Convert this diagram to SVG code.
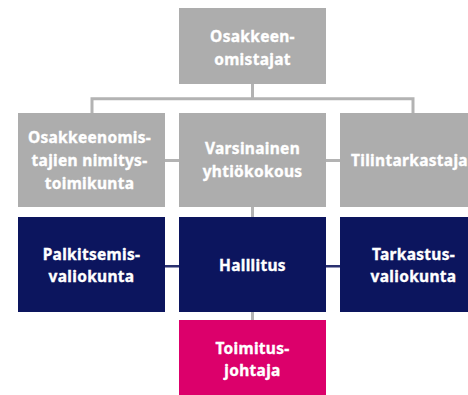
<svg xmlns="http://www.w3.org/2000/svg" width="468" height="395" viewBox="0 0 468 395">
<style>
.g{fill:#adadad}
.n{fill:#0c155e}
.p{fill:#dc006b}
text{font-family:"Noto Sans","Liberation Sans",sans-serif;font-weight:bold;font-size:15.5px;fill:#ffffff;stroke:#ffffff;stroke-width:0.35;text-anchor:middle;letter-spacing:0.3px}
.lg{stroke:#b3b3b3;stroke-width:3;fill:none}
.ln{stroke:#2a3170;stroke-width:2.6;fill:none}
</style>
<g id="connectors">
<path class="lg" d="M252.5 84V98.7M92 113V98.7H413V113"/>
<path class="lg" d="M165 160.5H179M326 160.5H340"/>
<path class="lg" d="M252.5 207V217M252.5 312V320"/>
<path class="ln" d="M165 266.3H179M326 266.3H340"/>
</g>
<g id="osakkeenomistajat">
<rect class="g" x="179" y="8" width="147" height="76"/>
<text x="252.5" y="42">Osakkeen-</text>
<text x="252.5" y="65">omistajat</text>
</g>
<g id="nimitystoimikunta">
<rect class="g" x="18" y="113" width="147" height="94"/>
<text x="89.5" y="143">Osakkeenomis-</text>
<text x="89.5" y="166">tajien nimitys-</text>
<text x="89.5" y="189">toimikunta</text>
</g>
<g id="yhtiokokous">
<rect class="g" x="179" y="113" width="147" height="94"/>
<text x="252.5" y="154">Varsinainen</text>
<text x="252.5" y="177">yhtiökokous</text>
</g>
<g id="tilintarkastaja">
<rect class="g" x="340" y="113" width="147" height="94"/>
<text x="351" y="166" style="text-anchor:start">Tilintarkastaja</text>
</g>
<g id="palkitsemisvaliokunta">
<rect class="n" x="18" y="217" width="147" height="95"/>
<text x="91.5" y="260">Palkitsemis-</text>
<text x="91.5" y="282">valiokunta</text>
</g>
<g id="hallitus">
<rect class="n" x="179" y="217" width="147" height="95"/>
<text x="252.5" y="271">Halllitus</text>
</g>
<g id="tarkastusvaliokunta">
<rect class="n" x="340" y="217" width="147" height="95"/>
<text x="413.5" y="260">Tarkastus-</text>
<text x="413.5" y="282">valiokunta</text>
</g>
<g id="toimitusjohtaja">
<rect class="p" x="179" y="320" width="147" height="80"/>
<text x="252.5" y="354">Toimitus-</text>
<text x="252.5" y="376">johtaja</text>
</g>
</svg>
